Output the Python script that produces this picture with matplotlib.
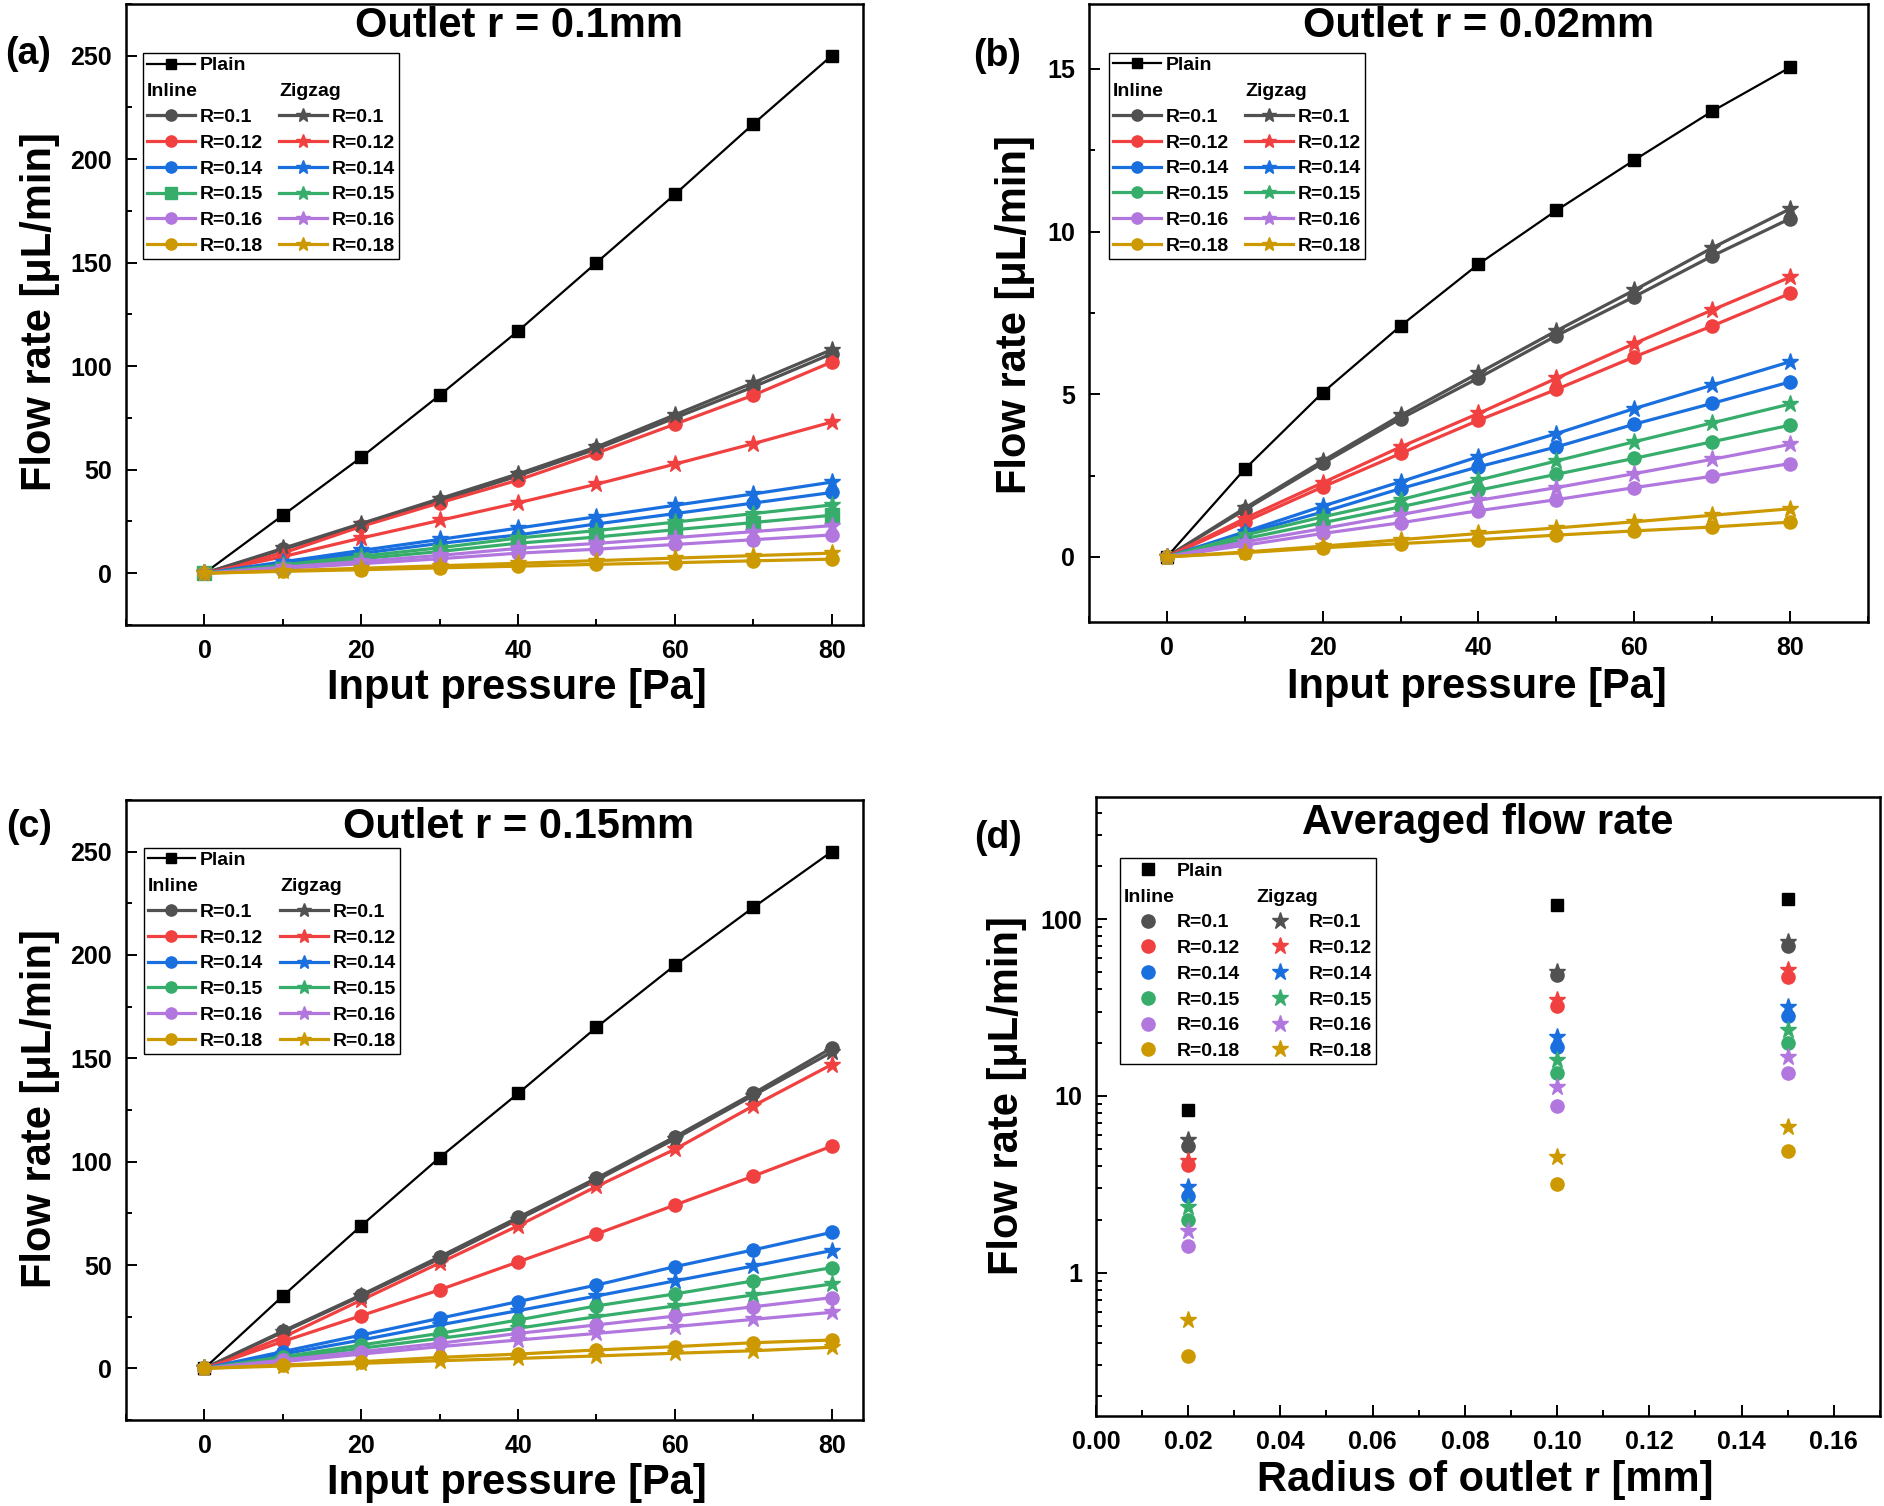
import matplotlib
matplotlib.use("Agg")
import matplotlib.pyplot as plt
from matplotlib.lines import Line2D
from matplotlib.ticker import MultipleLocator, LogLocator, NullFormatter, FixedLocator

plt.rcParams['font.family'] = ['Liberation Sans', 'DejaVu Sans']
plt.rcParams['font.weight'] = 'bold'
plt.rcParams['axes.labelweight'] = 'bold'

# ---------------- data ----------------
pressure = [0, 10, 20, 30, 40, 50, 60, 70, 80]
ratio_labels = ['R=0.1', 'R=0.12', 'R=0.14', 'R=0.15', 'R=0.16', 'R=0.18']

# (a) outlet r = 0.1 mm
plain_a = [0, 28, 56, 86, 117, 150, 183, 217, 250]
inline_a = [
    [0, 11.5, 23, 35, 47, 60, 75, 90, 106],
    [0, 9.7, 22.6, 34, 45, 58, 72, 86, 102],
    [0, 4.8, 9.6, 14.4, 18.5, 23.8, 28.8, 33.9, 39],
    [0, 3.5, 7, 10.5, 14.5, 17.5, 21, 24.5, 28],
    [0, 2.3, 4.6, 7, 9.7, 11.6, 13.9, 16.2, 18.5],
    [0, 0.9, 1.7, 2.6, 3.4, 4.3, 5.1, 6, 6.8],
]
zigzag_a = [
    [0, 12, 24, 36, 48, 61, 76.5, 92, 108],
    [0, 8, 17, 25.5, 34, 43, 52.7, 62.6, 73],
    [0, 5.5, 11, 16.3, 21.8, 27.3, 32.8, 38.3, 44],
    [0, 4, 8.2, 12.3, 17, 20.6, 24.7, 28.8, 33],
    [0, 2.9, 5.7, 8.6, 12, 14.4, 17.2, 20.1, 23],
    [0, 1.2, 2.4, 3.6, 4.8, 6.1, 7.3, 8.5, 9.7],
]

# (b) outlet r = 0.02 mm
plain_b = [0, 2.7, 5.05, 7.1, 9.0, 10.65, 12.2, 13.7, 15.05]
inline_b = [
    [0, 1.45, 2.88, 4.25, 5.5, 6.8, 8.0, 9.25, 10.4],
    [0, 1.08, 2.15, 3.18, 4.2, 5.15, 6.15, 7.1, 8.1],
    [0, 0.72, 1.38, 2.1, 2.77, 3.38, 4.08, 4.72, 5.38],
    [0, 0.56, 1.05, 1.54, 2.05, 2.54, 3.03, 3.54, 4.05],
    [0, 0.36, 0.72, 1.05, 1.42, 1.76, 2.13, 2.48, 2.87],
    [0, 0.13, 0.28, 0.41, 0.53, 0.67, 0.8, 0.92, 1.07],
]
zigzag_b = [
    [0, 1.5, 2.95, 4.35, 5.65, 6.95, 8.2, 9.5, 10.7],
    [0, 1.18, 2.28, 3.38, 4.41, 5.49, 6.56, 7.59, 8.6],
    [0, 0.77, 1.56, 2.31, 3.08, 3.79, 4.56, 5.28, 6.0],
    [0, 0.67, 1.23, 1.76, 2.36, 2.95, 3.54, 4.12, 4.7],
    [0, 0.46, 0.87, 1.3, 1.74, 2.13, 2.56, 3.0, 3.46],
    [0, 0.15, 0.33, 0.53, 0.72, 0.89, 1.08, 1.28, 1.48],
]

# (c) outlet r = 0.15 mm
plain_c = [0, 35, 69, 102, 133, 165, 195, 223, 250]
inline_c = [
    [0, 18, 35.5, 54, 73, 92, 112, 133, 155],
    [0, 13, 25.5, 38, 51.5, 65, 79, 93, 107.5],
    [0, 8.1, 16.1, 24.2, 32.3, 40.3, 49.2, 57.3, 65.8],
    [0, 5.6, 11.3, 16.9, 23.4, 30.2, 36, 42.3, 48.7],
    [0, 4, 8.1, 12.1, 16.9, 21, 25.3, 29.8, 34.2],
    [0, 1.6, 3.2, 5.3, 6.9, 8.9, 10.5, 12.4, 13.7],
]
zigzag_c = [
    [0, 17.5, 35, 53, 72, 91, 111, 132, 153],
    [0, 15, 33, 51, 69, 88, 106, 127, 147],
    [0, 6.9, 13.7, 21, 27.9, 35, 42.3, 49.5, 57],
    [0, 4.8, 9.7, 14.5, 19.4, 25, 30.2, 35.5, 40.8],
    [0, 3.2, 6.9, 10.5, 13.7, 16.9, 20.2, 23.7, 27.1],
    [0, 1.1, 2.4, 3.7, 4.8, 6, 7.3, 8.5, 10.2],
]

# (d) averaged flow rate
outlet_r = [0.02, 0.10, 0.15]
plain_d = [8.3, 120, 129]
inline_d = [
    [5.2, 48, 70],
    [4.05, 32.2, 47],
    [2.7, 18.9, 28.2],
    [1.99, 13.4, 20.0],
    [1.41, 8.8, 13.5],
    [0.34, 3.16, 4.9],
]
zigzag_d = [
    [5.6, 50, 74.5],
    [4.3, 34.8, 51.5],
    [3.05, 21.6, 31.9],
    [2.35, 15.9, 23.7],
    [1.72, 11.3, 16.7],
    [0.54, 4.5, 6.7],
]

# ---------------- style ----------------
colors = ['#515151', '#F14040', '#1A6FDF', '#37AD6B', '#B177DE', '#CC9900']
LEG_FS = 14
HL, HTP = 2.45, 0.25

fig = plt.figure(figsize=(18.84, 15.06), dpi=100)
ax_a = fig.add_axes([0.0669, 0.5850, 0.3912, 0.4124])
ax_b = fig.add_axes([0.5780, 0.5870, 0.4135, 0.4104])
ax_c = fig.add_axes([0.0669, 0.0571, 0.3912, 0.4117])
ax_d = fig.add_axes([0.5817, 0.0598, 0.4161, 0.4110])


def style_axes(ax):
    for s in ax.spines.values():
        s.set_linewidth(1.8)
    ax.tick_params(which='both', direction='in', top=False, right=False,
                   width=1.4, labelsize=18, pad=10)
    ax.tick_params(which='major', length=8)
    ax.tick_params(which='minor', length=4)
    for t in ax.get_xticklabels() + ax.get_yticklabels():
        t.set_fontweight('bold')


def add_legend(ax, plain_h, inl_h, zz_h, anchor, mscale=0.85):
    blank = Line2D([], [], linestyle='none')
    handles = [plain_h, blank] + inl_h + [blank, blank] + zz_h
    labels = ['Plain', 'Inline'] + ratio_labels + ['', 'Zigzag'] + ratio_labels
    leg = ax.legend(handles, labels, ncol=2, loc='upper left', bbox_to_anchor=anchor,
                    prop={'size': LEG_FS, 'weight': 'bold'},
                    handlelength=HL, handletextpad=HTP, columnspacing=0.85,
                    labelspacing=0.42, borderpad=0.2, borderaxespad=0,
                    fancybox=False, framealpha=1, markerscale=mscale)
    leg.get_frame().set_edgecolor('black')
    leg.get_frame().set_linewidth(1.0)
    # headers start where the handles start
    shift = (HL + HTP) * LEG_FS * fig.dpi / 72
    txt = leg.get_texts()
    txt[1].set_x(-shift)
    txt[9].set_x(-shift)
    return leg


def line_panel(ax, plain, inline, zigzag, inline_markers, zigzag_first=False):
    hp, = ax.plot(pressure, plain, color='black', marker='s', markersize=8, linewidth=1.6)
    inl_h, zz_h = [None] * 6, [None] * 6

    def draw_inline():
        for i in range(6):
            inl_h[i], = ax.plot(pressure, inline[i], color=colors[i], marker=inline_markers[i],
                                markersize=9.5, linewidth=2.3)

    def draw_zigzag():
        for i in range(6):
            zz_h[i], = ax.plot(pressure, zigzag[i], color=colors[i], marker='*',
                               markersize=12.5, linewidth=2.3)

    if zigzag_first:
        draw_zigzag()
        draw_inline()
    else:
        draw_inline()
        draw_zigzag()
    ax.set_xlabel('Input pressure [Pa]', fontsize=30)
    ax.set_ylabel('Flow rate [μL/min]', fontsize=30)
    ax.xaxis.set_major_locator(MultipleLocator(20))
    ax.xaxis.set_minor_locator(MultipleLocator(10))
    return hp, inl_h, zz_h


# (a)
hp, ih, zh = line_panel(ax_a, plain_a, inline_a, zigzag_a, ['o', 'o', 'o', 's', 'o', 'o'])
ax_a.set_xlim(-10, 84)
ax_a.set_ylim(-25, 275)
ax_a.yaxis.set_major_locator(MultipleLocator(50))
ax_a.yaxis.set_minor_locator(MultipleLocator(25))
add_legend(ax_a, hp, ih, zh, (0.023, 0.921))
ax_a.text(0.533, 0.965, 'Outlet r = 0.1mm', transform=ax_a.transAxes, ha='center', va='center',
          fontsize=30, fontweight='bold')

# (b)
hp, ih, zh = line_panel(ax_b, plain_b, inline_b, zigzag_b, ['o'] * 6)
ax_b.set_xlim(-10, 90)
ax_b.set_ylim(-2, 17)
ax_b.yaxis.set_major_locator(MultipleLocator(5))
ax_b.yaxis.set_minor_locator(MultipleLocator(2.5))
add_legend(ax_b, hp, ih, zh, (0.026, 0.921))
ax_b.text(0.5, 0.964, 'Outlet r = 0.02mm', transform=ax_b.transAxes, ha='center', va='center',
          fontsize=30, fontweight='bold')

# (c)
hp, ih, zh = line_panel(ax_c, plain_c, inline_c, zigzag_c, ['o'] * 6, zigzag_first=True)
ax_c.set_xlim(-10, 84)
ax_c.set_ylim(-25, 275)
ax_c.yaxis.set_major_locator(MultipleLocator(50))
ax_c.yaxis.set_minor_locator(MultipleLocator(25))
add_legend(ax_c, hp, ih, zh, (0.024, 0.923))
ax_c.text(0.533, 0.956, 'Outlet r = 0.15mm', transform=ax_c.transAxes, ha='center', va='center',
          fontsize=30, fontweight='bold')

# (d)
hp, = ax_d.plot(outlet_r, plain_d, linestyle='none', color='black', marker='s', markersize=8)
ih, zh = [], []
for i in range(6):
    h, = ax_d.plot(outlet_r, inline_d[i], linestyle='none', color=colors[i], marker='o', markersize=9.5)
    ih.append(h)
for i in range(6):
    h, = ax_d.plot(outlet_r, zigzag_d[i], linestyle='none', color=colors[i], marker='*', markersize=12.5)
    zh.append(h)
ax_d.set_yscale('log')
ax_d.set_xlim(0, 0.17)
ax_d.set_ylim(0.155, 490)
ax_d.xaxis.set_major_locator(MultipleLocator(0.02))
ax_d.xaxis.set_minor_locator(MultipleLocator(0.01))
ax_d.xaxis.set_major_formatter(matplotlib.ticker.FormatStrFormatter('%.2f'))
ax_d.yaxis.set_major_locator(FixedLocator([1, 10, 100]))
ax_d.yaxis.set_major_formatter(matplotlib.ticker.FixedFormatter(['1', '10', '100']))
ax_d.yaxis.set_minor_locator(LogLocator(base=10, subs=range(2, 10)))
ax_d.yaxis.set_minor_formatter(NullFormatter())
ax_d.set_xlabel('Radius of outlet r [mm]', fontsize=30)
ax_d.set_ylabel('Flow rate [μL/min]', fontsize=30)
add_legend(ax_d, hp, ih, zh, (0.031, 0.901), mscale=1.0)
ax_d.text(0.5, 0.958, 'Averaged flow rate', transform=ax_d.transAxes, ha='center', va='center',
          fontsize=30, fontweight='bold')

for ax in (ax_a, ax_b, ax_c, ax_d):
    style_axes(ax)
    ax.xaxis.label.set_va('center')
    ax.yaxis.label.set_va('center')

ax_a.xaxis.set_label_coords(0.53, -0.101)
ax_b.xaxis.set_label_coords(0.498, -0.105)
ax_c.xaxis.set_label_coords(0.53, -0.102)
ax_d.xaxis.set_label_coords(0.497, -0.103)
ax_a.yaxis.set_label_coords(-0.117, 0.504)
ax_b.yaxis.set_label_coords(-0.095, 0.498)
ax_c.yaxis.set_label_coords(-0.117, 0.502)
ax_d.yaxis.set_label_coords(-0.1135, 0.517)

# panel letters
fig.text(5 / 1884, 1 - 54 / 1506, '(a)', fontsize=27, fontweight='bold', ha='left', va='center')
fig.text(973 / 1884, 1 - 56 / 1506, '(b)', fontsize=27, fontweight='bold', ha='left', va='center')
fig.text(6 / 1884, 1 - 827 / 1506, '(c)', fontsize=27, fontweight='bold', ha='left', va='center')
fig.text(974 / 1884, 1 - 838 / 1506, '(d)', fontsize=27, fontweight='bold', ha='left', va='center')

fig.savefig('out.png', dpi=100, facecolor='white')
